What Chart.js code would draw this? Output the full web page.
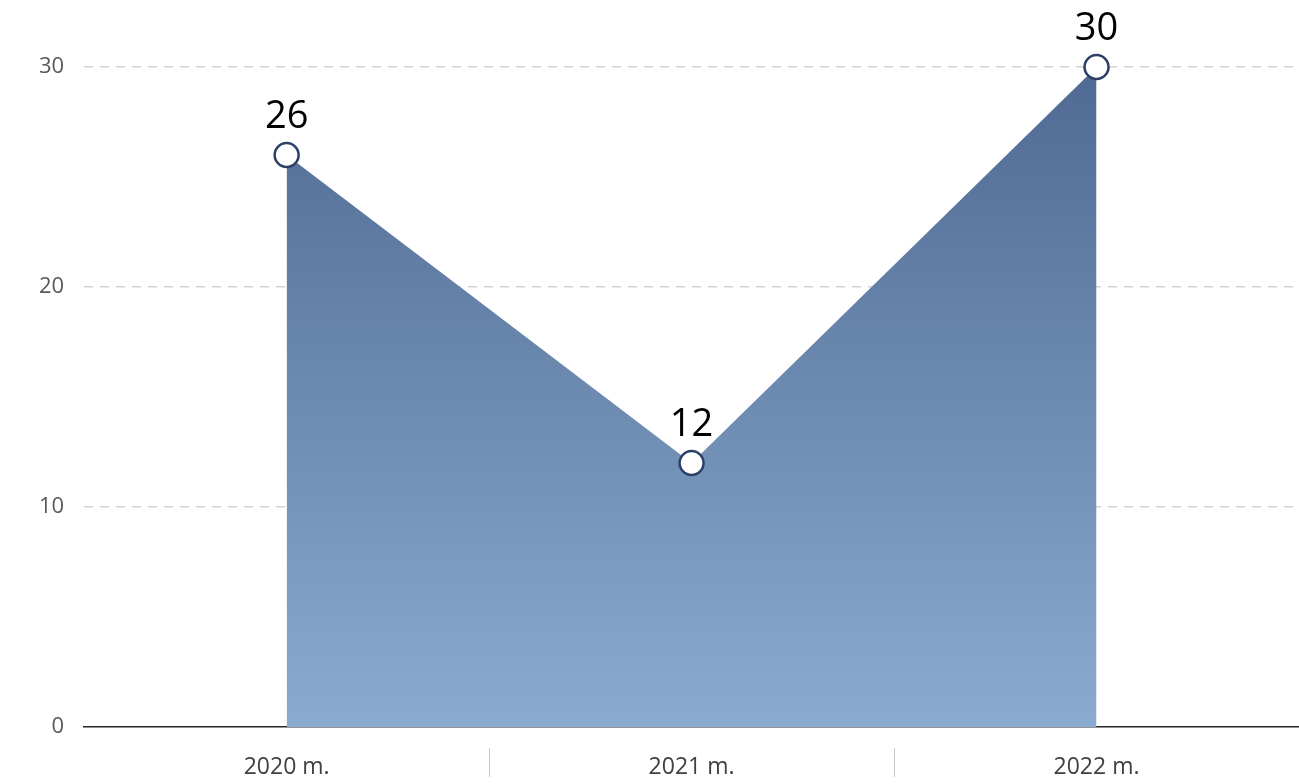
<!DOCTYPE html>
<html>
<head>
<meta charset="utf-8">
<script src="https://cdn.jsdelivr.net/npm/chart.js@4/dist/chart.umd.min.js"></script>
<style>
  html, body { margin: 0; padding: 0; background: #fff; overflow: hidden; }
  #wrap { width: 1299px; height: 784px; }
</style>
</head>
<body>
<div id="wrap"><canvas id="chart"></canvas></div>
<script>
var years = ['2020 m.', '2021 m.', '2022 m.'];
var counts = [26, 12, 30];
var yTicks = [0, 10, 20, 30];

// value labels above the points
var valueLabels = {
  id: 'valueLabels',
  afterDatasetsDraw: function (chart) {
    var ctx = chart.ctx;
    var meta = chart.getDatasetMeta(0);
    ctx.save();
    ctx.font = '38px "Open Sans", sans-serif';
    ctx.fillStyle = '#000';
    ctx.textAlign = 'center';
    ctx.textBaseline = 'middle';
    meta.data.forEach(function (pt, i) {
      ctx.fillText(String(counts[i]), pt.x, pt.y - 38);
    });
    ctx.restore();
  }
};

// short separators between category labels
var separators = {
  id: 'separators',
  afterDraw: function (chart) {
    var x = chart.scales.x;
    var ctx = chart.ctx;
    ctx.save();
    ctx.strokeStyle = '#c8c8c8';
    ctx.lineWidth = 1;
    for (var i = 1; i < years.length; i++) {
      var px = Math.round((x.getPixelForValue(i - 1) + x.getPixelForValue(i)) / 2) + 0.5;
      ctx.beginPath();
      ctx.moveTo(px, x.top + 21);
      ctx.lineTo(px, x.top + 50);
      ctx.stroke();
    }
    ctx.restore();
  }
};

var ctx = document.getElementById('chart').getContext('2d');
var chart = new Chart(ctx, {
  type: 'line',
  data: {
    labels: years,
    datasets: [{
      data: counts,
      fill: 'origin',
      clip: false,
      borderWidth: 0,
      borderColor: 'rgba(0,0,0,0)',
      tension: 0,
      backgroundColor: function (c) {
        var area = c.chart.chartArea;
        if (!area) return '#6a88ae';
        var g = c.chart.ctx.createLinearGradient(0, area.top, 0, area.bottom);
        g.addColorStop(0, '#506a93');
        g.addColorStop(1, '#8aabcf');
        return g;
      },
      pointRadius: 12,
      pointHoverRadius: 12,
      pointBackgroundColor: '#fff',
      pointBorderColor: '#2c3f66',
      pointBorderWidth: 2.5
    }]
  },
  options: {
    responsive: true,
    maintainAspectRatio: false,
    animation: false,
    layout: { autoPadding: false, padding: { left: 19, right: 0, top: 67, bottom: 0 } },
    plugins: {
      legend: { display: false },
      tooltip: { enabled: false }
    },
    scales: {
      x: {
        offset: true,
        z: 1,
        grid: { display: false },
        border: { display: true, color: '#262626', width: 1.5 },
        afterFit: function (axis) { axis.height = 57; },
        ticks: {
          color: '#404040',
          padding: 19,
          font: { family: '"Open Sans", sans-serif', size: 23 }
        }
      },
      y: {
        min: yTicks[0],
        max: yTicks[yTicks.length - 1],
        afterBuildTicks: function (axis) {
          axis.ticks = yTicks.map(function (v) { return { value: v }; });
        },
        grid: {
          color: function (c) { return c.tick && c.tick.value === 0 ? 'rgba(0,0,0,0)' : '#d4d4d4'; },
          lineWidth: 1.5,
          drawTicks: false
        },
        border: { display: false, dash: [9, 7] },
        ticks: {
          color: '#595959',
          padding: 20,
          font: { family: '"Open Sans", sans-serif', size: 22 }
        }
      }
    }
  },
  plugins: [valueLabels, separators]
});
</script>
</body>
</html>
